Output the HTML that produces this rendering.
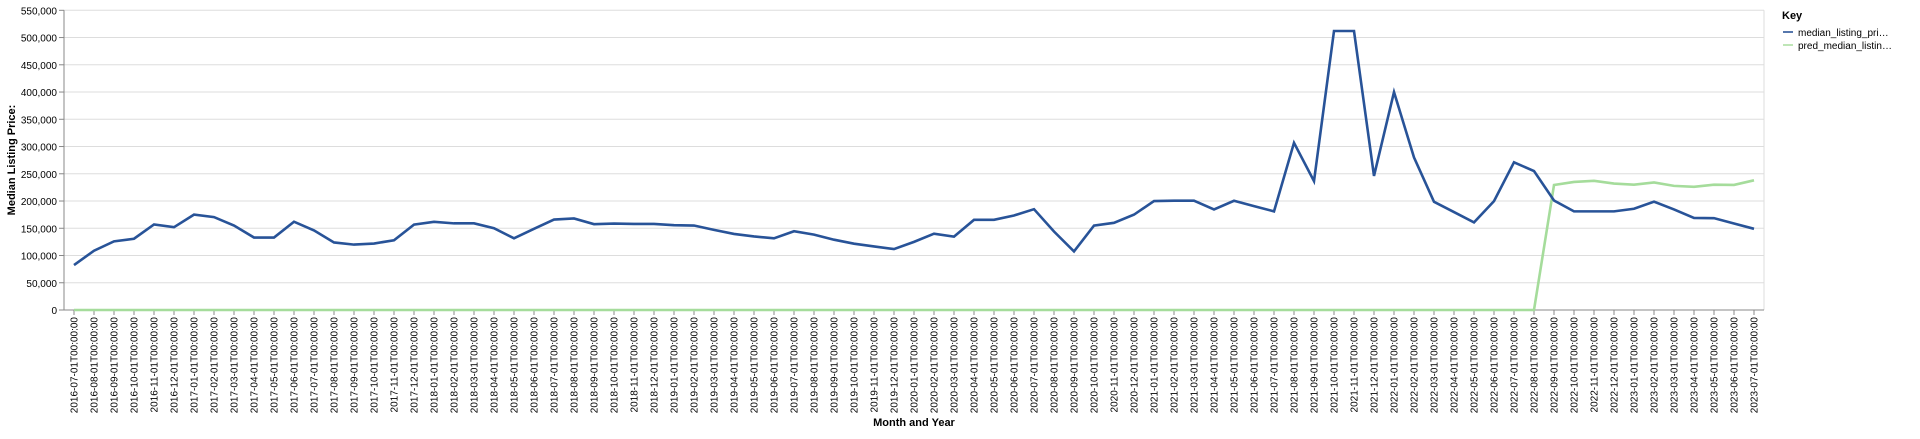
<!DOCTYPE html>
<html><head><meta charset="utf-8"><style>
body{margin:0;background:#fff;font-family:"Liberation Sans",Arial,sans-serif;}
svg text{font-family:"Liberation Sans",Arial,sans-serif;}
</style></head><body>
<svg id="chart" width="1920" height="434" xmlns="http://www.w3.org/2000/svg">
<g id="grid"></g>
<g id="yaxis"></g>
<g id="xaxis"></g>
<g id="series"></g>
<text transform="translate(15,160) rotate(-90)" text-anchor="middle" font-size="11" font-weight="bold" fill="#000">Median Listing Price:</text>
<text x="914" y="426" text-anchor="middle" font-size="11" font-weight="bold" fill="#000">Month and Year</text>
<g>
<text x="1782" y="19" font-size="11" font-weight="bold" fill="#000">Key</text>
<g>
<line x1="1783" y1="32" x2="1793" y2="32" stroke="#5677ad" stroke-width="2"/>
<text x="1798" y="36" font-size="10" fill="#000">median_listing_pri…</text></g>
<g>
<line x1="1783" y1="45" x2="1793" y2="45" stroke="#bfe6b7" stroke-width="2"/>
<text x="1798" y="49" font-size="10" fill="#000">pred_median_listin…</text></g>
</g>
</svg>
<script>
const startYear = 2016, startMonth = 7, monthCount = 85;
const medianValues = [82500,108800,126000,130800,157000,152000,175000,170500,155000,133000,133000,162000,146000,124000,120000,122000,128000,156800,161800,159000,159000,150000,131500,149000,166000,168000,157500,158700,158000,158000,155600,155000,147000,139600,135000,131500,144500,138300,129000,121700,116700,111800,125000,140000,134600,165500,165500,173500,185000,144000,107500,155000,160000,175000,200000,200600,200600,184500,200400,190700,181000,306800,236500,512000,512000,246000,400000,280000,198600,179700,160700,199800,271000,255000,201000,181000,181000,181000,185800,198800,184600,169000,168500,158700,149000];
const predValues = [0,0,0,0,0,0,0,0,0,0,0,0,0,0,0,0,0,0,0,0,0,0,0,0,0,0,0,0,0,0,0,0,0,0,0,0,0,0,0,0,0,0,0,0,0,0,0,0,0,0,0,0,0,0,0,0,0,0,0,0,0,0,0,0,0,0,0,0,0,0,0,0,0,0,229400,235000,237000,232000,230000,234000,227800,226000,230000,229600,238000];
const yTicks = [0,50000,100000,150000,200000,250000,300000,350000,400000,450000,500000,550000];

const categories = [];
for (let i = 0; i < monthCount; i++) {
  const m = startMonth - 1 + i, y = startYear + Math.floor(m / 12), mm = (m % 12) + 1;
  categories.push(y + '-' + String(mm).padStart(2, '0') + '-01T00:00:00');
}
const NS = 'http://www.w3.org/2000/svg';
const X0 = 64, X1 = 1764, Y0 = 310, Y1 = 10.3, YMAX = 550000;
const band = (X1 - X0) / categories.length;
const xs = i => X0 + band * (i + 0.5);
const ys = v => Y0 - (v / YMAX) * (Y0 - Y1);
function mk(tag, attrs, parent) { const e = document.createElementNS(NS, tag); for (const k in attrs) e.setAttribute(k, attrs[k]); parent.appendChild(e); return e; }
const grid = document.getElementById('grid'), ya = document.getElementById('yaxis'), xa = document.getElementById('xaxis'), ser = document.getElementById('series');
mk('line', {x1: X1, y1: Y1, x2: X1, y2: Y0, stroke: '#ddd'}, grid);
yTicks.forEach(t => {
  const y = ys(t);
  const g = mk('line', {x1: X0, y1: y, x2: X1, y2: y, stroke: '#ddd'}, grid);
  
  
  mk('line', {x1: X0 - 5, y1: y, x2: X0, y2: y, stroke: '#888'}, ya);
  const tx = mk('text', {x: X0 - 7, y: y + 4, 'text-anchor': 'end', 'font-size': '10', fill: '#000'}, ya);
  
  
  tx.textContent = t.toLocaleString('en-US');
});
mk('line', {x1: X0, y1: Y1, x2: X0, y2: Y0, stroke: '#888'}, ya);
mk('line', {x1: X0, y1: Y0, x2: X1, y2: Y0, stroke: '#888'}, xa);
categories.forEach((c, i) => {
  const x = xs(i);
  mk('line', {x1: x, y1: Y0, x2: x, y2: Y0 + 5, stroke: '#888'}, xa);
  const tx = mk('text', {transform: 'translate(' + (x + 3.5) + ',' + (Y0 + 7) + ') rotate(-90)', 'text-anchor': 'end', 'font-size': '10', fill: '#000'}, xa);
  
  
  tx.textContent = c;
});
function line(vals, color, name) {
  const d = vals.map((v, i) => (i ? 'L' : 'M') + xs(i).toFixed(2) + ',' + ys(v).toFixed(2)).join('');
  const p = mk('path', {d: d, fill: 'none', stroke: color, 'stroke-width': '2.6', 'stroke-linejoin': 'miter'}, ser);
  
  
}
line(predValues, '#a5dc9b', 'pred-median-line');
line(medianValues, '#285398', 'median-listing-line');
</script>
</body></html>
